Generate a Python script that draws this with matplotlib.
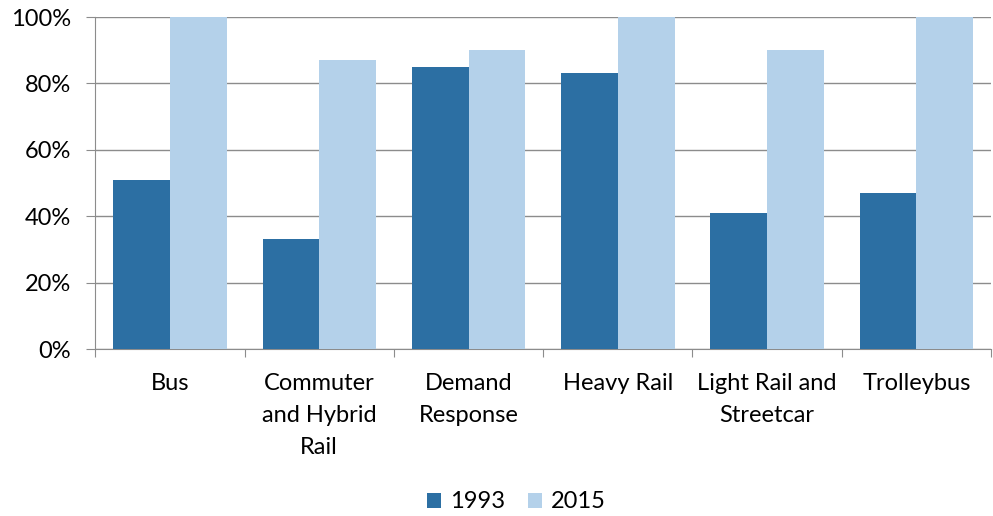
import numpy as np
import matplotlib
matplotlib.use("Agg")
import matplotlib.pyplot as plt

categories = ["Bus", "Commuter\nand Hybrid\nRail", "Demand\nResponse", "Heavy Rail",
              "Light Rail and\nStreetcar", "Trolleybus"]
share_1993 = [51, 33, 85, 83, 41, 47]
share_2015 = [100, 87, 90, 100, 90, 100]

plt.rcParams['font.family'] = ['Lato', 'DejaVu Sans']

fig = plt.figure(figsize=(9.93, 5.16), dpi=100)
ax = fig.add_axes([0.096, 0.3236, 0.902, 0.6434])

x = np.arange(len(categories))
w = 0.38
ax.bar(x - w / 2, share_1993, w, color="#2C6FA3", label="1993", zorder=3)
ax.bar(x + w / 2, share_2015, w, color="#B4D1EA", label="2015", zorder=3)

ax.set_xlim(-0.5, len(categories) - 0.5)
ax.set_ylim(0, 100)
ax.set_yticks(range(0, 101, 20))
ax.set_yticklabels([f"{v}%" for v in range(0, 101, 20)], fontsize=17)
ax.yaxis.grid(True, color="#8C8C8C", linewidth=1, zorder=0)

ax.set_xticks(np.arange(-0.5, len(categories), 1))
ax.set_xticklabels([])
ax.set_xticks(x, minor=True)
ax.set_xticklabels(categories, minor=True, fontsize=17, linespacing=1.65)
ax.tick_params(axis="x", which="minor", length=0, pad=17)
ax.tick_params(axis="x", which="major", length=6, color="#8C8C8C")
ax.tick_params(axis="y", length=6.5, color="#8C8C8C", pad=11)

for s in ["top", "right"]:
    ax.spines[s].set_visible(False)
ax.spines["left"].set_color("#8C8C8C")
ax.spines["bottom"].set_color("#8C8C8C")

fig.legend(loc="lower center", bbox_to_anchor=(0.52, 0.0), ncol=2, frameon=False,
           fontsize=17, handlelength=0.6, handleheight=0.6, handletextpad=0.35,
           columnspacing=1.0, borderaxespad=0, borderpad=0.15)

fig.savefig("out.png", dpi=100)
